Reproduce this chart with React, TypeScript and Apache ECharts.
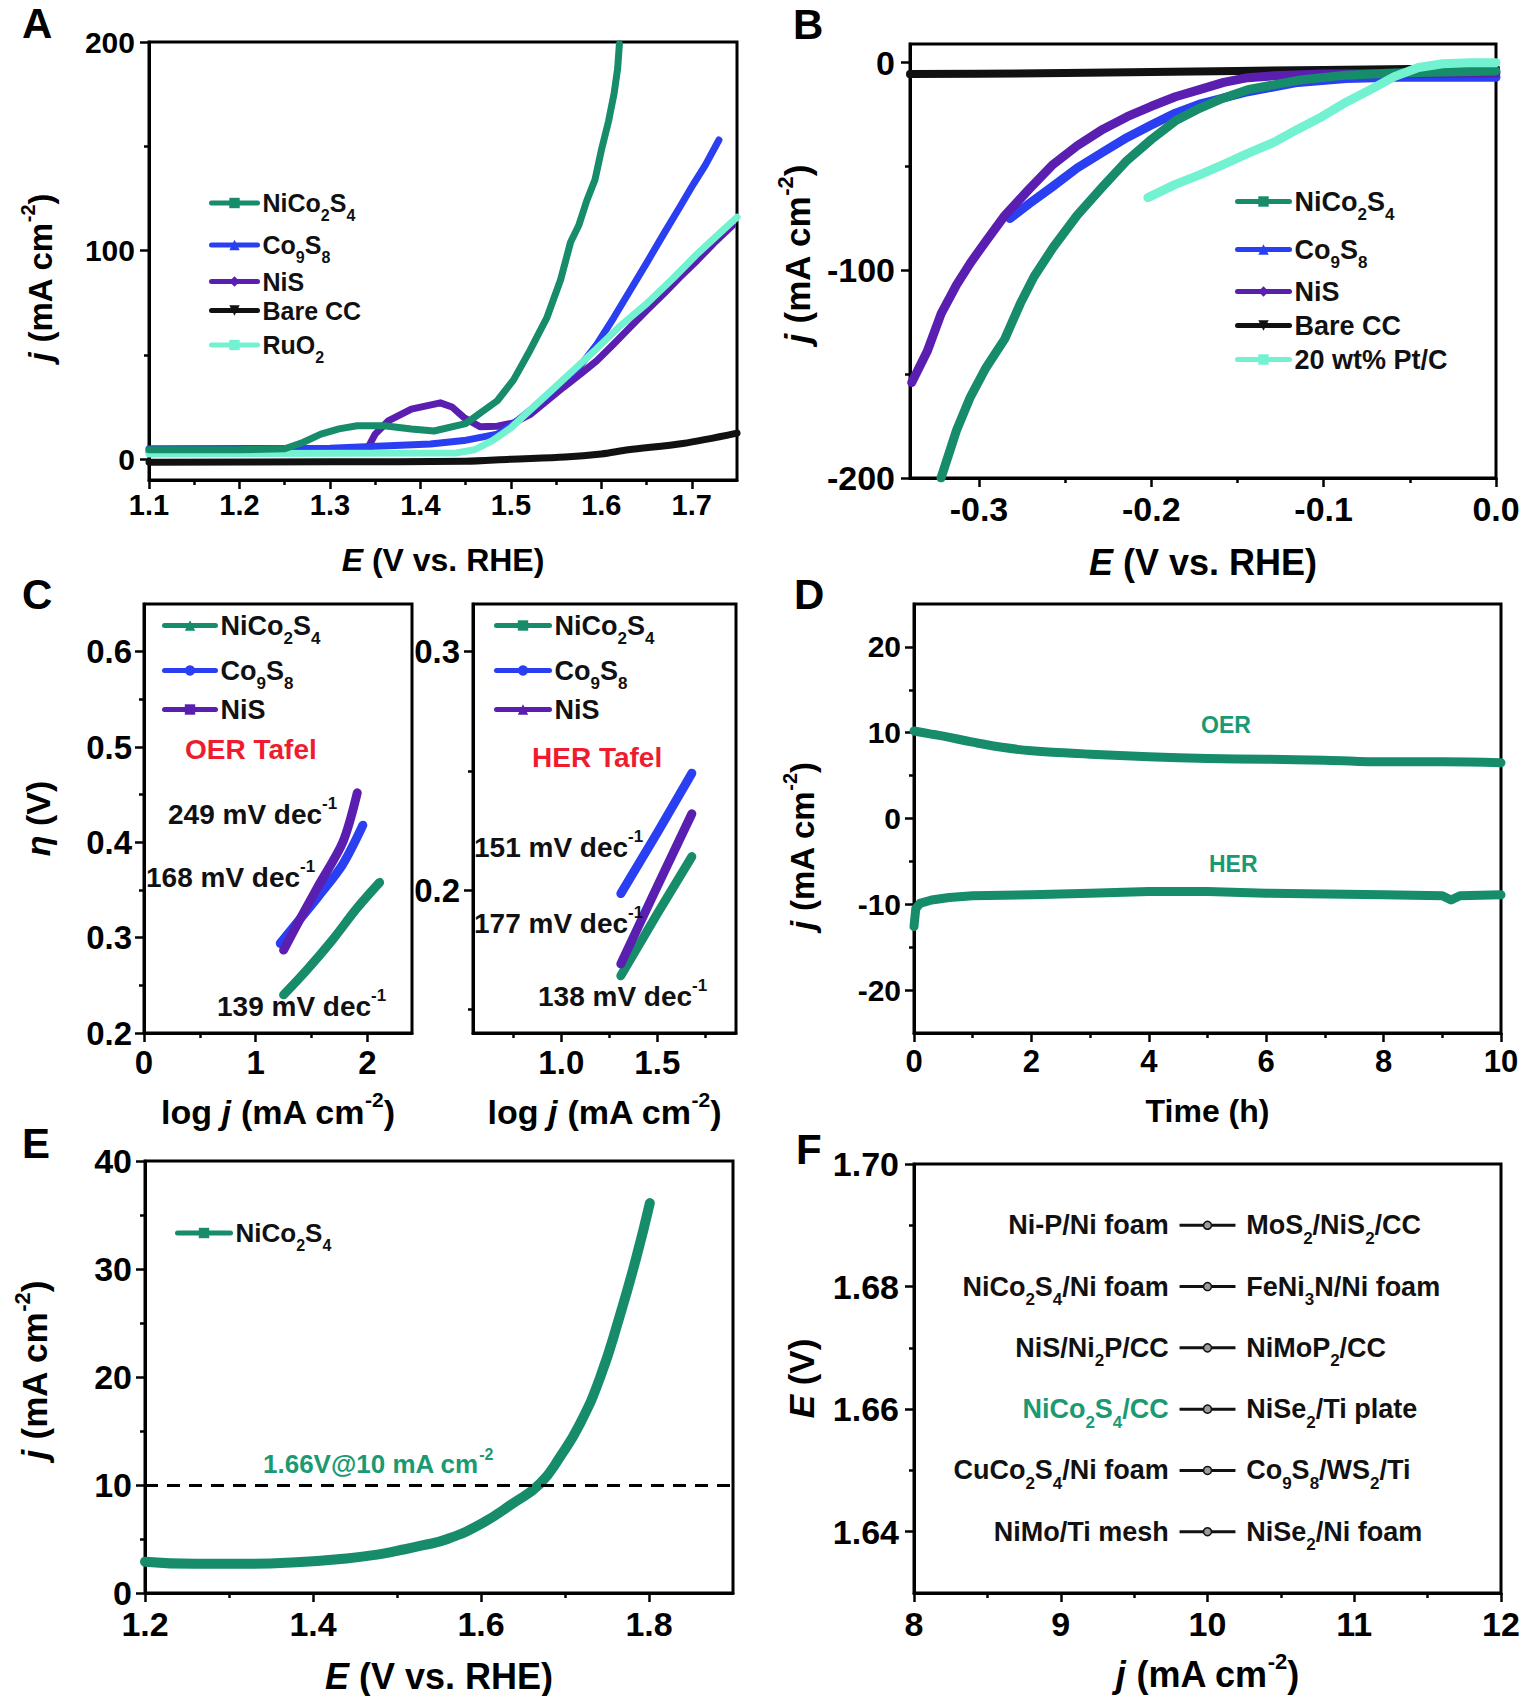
import React, { useEffect, useRef } from 'react';
import * as echarts from 'echarts';

const FONT = 'Arial, "Liberation Sans", Helvetica, sans-serif';
const GREEN = '#168c6a';
const BLUE = '#2b3ff2';
const PURPLE = '#5a1fb0';
const BLACK = '#111111';
const CYAN = '#72f2d0';
const RED = '#ee1c2e';
const LABEL_GREEN = '#1a9a72';

// ---------- Panel A: OER polarization (E, j) ----------
const A_NICO2S4 = [[1.10, 4.5], [1.20, 4.5], [1.25, 5], [1.27, 8], [1.29, 12], [1.31, 14.5], [1.33, 16], [1.36, 16], [1.39, 14.5], [1.415, 13.5], [1.45, 17], [1.485, 28], [1.503, 38], [1.521, 52], [1.54, 68], [1.555, 86], [1.566, 104], [1.575, 112], [1.584, 124], [1.593, 134], [1.60, 148], [1.608, 162], [1.614, 175], [1.618, 187], [1.62, 199]];
const A_CO9S8 = [[1.10, 5], [1.30, 5.2], [1.411, 7.3], [1.448, 8.9], [1.485, 12], [1.503, 17], [1.521, 23.3], [1.54, 30.5], [1.558, 37.7], [1.577, 45], [1.595, 55], [1.614, 68], [1.632, 81], [1.65, 94], [1.669, 108], [1.687, 121], [1.702, 132], [1.715, 141], [1.73, 153]];
const A_NIS = [[1.10, 3.5], [1.34, 3.8], [1.35, 12], [1.365, 18.5], [1.39, 24], [1.422, 27], [1.435, 25], [1.448, 20], [1.466, 15.5], [1.485, 15.8], [1.503, 17.4], [1.521, 21.3], [1.558, 34.4], [1.577, 40.8], [1.595, 47.2], [1.614, 55.3], [1.632, 63.3], [1.65, 71.3], [1.669, 79.3], [1.687, 87.3], [1.706, 95.3], [1.724, 103.4], [1.745, 112]];
const A_BARE = [[1.10, -1.5], [1.30, -1.3], [1.45, -1], [1.50, 0], [1.56, 1], [1.60, 2.5], [1.63, 4.5], [1.69, 7.5], [1.75, 12.5]];
const A_RUO2 = [[1.10, 2.5], [1.44, 3], [1.46, 4.5], [1.48, 9], [1.50, 15], [1.52, 23], [1.545, 33], [1.57, 43], [1.595, 53], [1.62, 63.5], [1.65, 74.5], [1.68, 87], [1.705, 98], [1.73, 108], [1.75, 116]];
const A_NAMES = ['A::NiCo_{2}S_{4}', 'A::Co_{9}S_{8}', 'A::NiS', 'A::Bare CC', 'A::RuO_{2}'];

// ---------- Panel B: HER polarization ----------
const B_NICO2S4 = [[-0.322, -200], [-0.313, -177], [-0.305, -161], [-0.296, -147], [-0.285, -133], [-0.276, -116], [-0.268, -103], [-0.257, -89], [-0.243, -73.5], [-0.228, -59.5], [-0.214, -47], [-0.2, -37], [-0.186, -28], [-0.172, -22], [-0.158, -17], [-0.144, -13], [-0.115, -8.5], [-0.087, -6], [-0.059, -5], [0, -4]];
const B_CO9S8 = [[-0.282, -75], [-0.271, -68], [-0.257, -59.5], [-0.243, -50.7], [-0.228, -43], [-0.214, -36], [-0.2, -30], [-0.186, -24.3], [-0.172, -20], [-0.144, -14], [-0.115, -9.5], [-0.087, -7.6], [-0.059, -7], [0, -7]];
const B_NIS = [[-0.339, -154], [-0.33, -139], [-0.322, -121], [-0.313, -107], [-0.305, -96.5], [-0.296, -86], [-0.285, -73.6], [-0.271, -61], [-0.257, -49], [-0.243, -40], [-0.228, -32], [-0.214, -26], [-0.2, -21], [-0.186, -16.4], [-0.172, -13], [-0.158, -9.5], [-0.144, -7.2], [-0.129, -6.3], [-0.1, -5.5], [0, -5]];
const B_BARE = [[-0.34, -5.5], [-0.3, -5.3], [-0.25, -5], [-0.2, -4.5], [-0.15, -4], [-0.1, -3.5], [-0.05, -3], [0, -2.8]];
const B_PTC = [[-0.202, -65], [-0.186, -58.6], [-0.172, -54], [-0.158, -49], [-0.144, -43.7], [-0.129, -38.4], [-0.115, -32], [-0.101, -26], [-0.087, -19], [-0.073, -13], [-0.059, -6.7], [-0.045, -2.3], [-0.031, -0.5], [-0.015, 0], [0, 0]];
const B_NAMES = ['B::NiCo_{2}S_{4}', 'B::Co_{9}S_{8}', 'B::NiS', 'B::Bare CC', 'B::20 wt% Pt/C'];

// ---------- Panel C: Tafel plots ----------
const C1_NICO2S4 = [[1.25, 0.24], [1.45, 0.265], [1.69, 0.298], [1.9, 0.33], [2.11, 0.358]];
const C1_CO9S8 = [[1.22, 0.294], [1.4, 0.32], [1.56, 0.343], [1.78, 0.377], [1.96, 0.418]];
const C1_NIS = [[1.25, 0.287], [1.4, 0.32], [1.56, 0.354], [1.78, 0.40], [1.91, 0.452]];
const C1_NAMES = ['C1::NiCo_{2}S_{4}', 'C1::Co_{9}S_{8}', 'C1::NiS'];
const C1_SLOPES = ['249 mV dec^{-1}', '168 mV dec^{-1}', '139 mV dec^{-1}'];
const C2_NICO2S4 = [[1.31, 0.164], [1.5, 0.19], [1.68, 0.214]];
const C2_CO9S8 = [[1.31, 0.1985], [1.5, 0.224], [1.68, 0.249]];
const C2_NIS = [[1.31, 0.169], [1.5, 0.2015], [1.68, 0.232]];
const C2_NAMES = ['C2::NiCo_{2}S_{4}', 'C2::Co_{9}S_{8}', 'C2::NiS'];
const C2_SLOPES = ['151 mV dec^{-1}', '177 mV dec^{-1}', '138 mV dec^{-1}'];

// ---------- Panel D: stability ----------
const D_OER = [[0, 10.2], [0.25, 9.9], [0.5, 9.6], [1, 8.9], [1.5, 8.3], [2, 7.9], [3, 7.5], [4, 7.2], [5, 7.0], [6, 6.9], [7, 6.8], [8, 6.6], [9, 6.6], [10, 6.5]];
const D_HER = [[0, -12.6], [0.03, -10.5], [0.1, -9.9], [0.3, -9.5], [0.6, -9.2], [1, -9.0], [2, -8.9], [3, -8.7], [4, -8.5], [5, -8.5], [6, -8.7], [7, -8.8], [8, -8.9], [9, -9.0], [9.15, -9.5], [9.3, -9.0], [10, -8.9]];

// ---------- Panel E: overall water splitting ----------
const E_NICO2S4 = [[1.2, 2.9], [1.26, 2.7], [1.32, 2.7], [1.38, 2.85], [1.44, 3.2], [1.48, 3.6], [1.50, 3.9], [1.53, 4.4], [1.56, 5.0], [1.60, 6.4], [1.638, 8.3], [1.67, 10.1], [1.694, 12.6], [1.718, 15.7], [1.742, 20.0], [1.765, 25.6], [1.785, 31.1], [1.801, 36.1]];
const E_REF_J = 10;
const E_NAMES = ['E::NiCo_{2}S_{4}'];
const E_NOTE = '1.66V@10 mA cm^{-2}';

// ---------- Panel F: comparison ----------
const F_J = 10;
const F_E = [1.69, 1.68, 1.67, 1.66, 1.65, 1.64];
const F_LEFT = ['Ni-P/Ni foam', 'NiCo_{2}S_{4}/Ni foam', 'NiS/Ni_{2}P/CC', 'NiCo_{2}S_{4}/CC', 'CuCo_{2}S_{4}/Ni foam', 'NiMo/Ti mesh'];
const F_RIGHT = ['MoS_{2}/NiS_{2}/CC', 'FeNi_{3}N/Ni foam', 'NiMoP_{2}/CC', 'NiSe_{2}/Ti plate', 'Co_{9}S_{8}/WS_{2}/Ti', 'NiSe_{2}/Ni foam'];
const F_HIGHLIGHT = 3;
const F_SEG = 0.19;

// ---------- helpers ----------
function richify(s: string): string {
  let out = '';
  let buf = '';
  const flush = () => {
    if (buf) { out += '{t|' + buf + '}'; buf = ''; }
  };
  for (let i = 0; i < s.length; i++) {
    const c = s[i];
    if ((c === '_' || c === '^' || c === '~') && s[i + 1] === '{') {
      const end = s.indexOf('}', i + 2);
      const inner = s.slice(i + 2, end);
      flush();
      const st = c === '_' ? 's' : c === '^' ? 'p' : 'i';
      out += '{' + st + '|' + inner + '}';
      i = end;
    } else {
      buf += c;
    }
  }
  flush();
  return out;
}

function richStyles(F: number, color: string) {
  const L = Math.round(F * 1.45);
  const S = Math.round(F * 0.62);
  const base: any = { fontFamily: FONT, fontWeight: 'bold', color, fill: color };
  return {
    t: { ...base, fontSize: F, lineHeight: L },
    i: { ...base, fontSize: F, lineHeight: L, fontStyle: 'italic' },
    s: { ...base, fontSize: S, lineHeight: S, verticalAlign: 'top', padding: [Math.round(L / 2 + 0.157 * F), 0, 0, 0] },
    p: { ...base, fontSize: S, lineHeight: S, verticalAlign: 'top', padding: [Math.round(F * 0.05), 0, 0, 0] },
  };
}

type AxisSpec = {
  min: number; max: number; major: number[]; minor: number[];
  fmt: (v: number) => string; fs: number; margin: number;
  name?: string; nameGap?: number; nameFs?: number; namePad?: number[];
};

function makeAxis(dim: 'x' | 'y', gi: number, s: AxisSpec) {
  const position = dim === 'x' ? 'bottom' : 'left';
  const common: any = { type: 'value', gridIndex: gi, position, min: s.min, max: s.max, splitLine: { show: false }, offset: 0 };
  const main: any = {
    ...common,
    axisLine: { show: true, onZero: false, lineStyle: { color: '#000', width: 3 } },
    axisTick: { show: true, inside: false, length: 9, customValues: s.major, lineStyle: { color: '#000', width: 2.5 } },
    axisLabel: {
      show: true, customValues: s.major, formatter: (v: number) => s.fmt(v),
      fontSize: s.fs, fontWeight: 'bold', fontFamily: FONT, color: '#000', margin: s.margin,
      showMinLabel: true, showMaxLabel: true, hideOverlap: false,
    },
    name: s.name ? richify(s.name) : '',
    nameLocation: 'middle',
    nameGap: s.nameGap ?? 0,
    nameMoveOverlap: false,
    nameTextStyle: { rich: richStyles(s.nameFs ?? 30, '#000'), padding: s.namePad ?? 0 },
  };
  const minor: any = {
    ...common,
    axisLine: { show: false, onZero: false },
    axisTick: { show: true, inside: false, length: 5, customValues: s.minor, lineStyle: { color: '#000', width: 2.5 } },
    axisLabel: { show: false },
    name: '',
  };
  return [main, minor];
}

const f0 = (v: number) => String(Math.round(v));
const f1 = (v: number) => v.toFixed(1);
const f2 = (v: number) => v.toFixed(2);

function buildOption() {
  const gridRects = [
    { left: 149, top: 42, width: 588, height: 438 },   // A
    { left: 910, top: 44, width: 586, height: 434 },   // B
    { left: 144, top: 604, width: 268, height: 429 },  // C1
    { left: 473, top: 604, width: 263, height: 429 },  // C2
    { left: 914, top: 604, width: 587, height: 429 },  // D
    { left: 145, top: 1161, width: 588, height: 432 }, // E
    { left: 914, top: 1164, width: 587, height: 429 }, // F
  ];
  const grid = gridRects.map((g) => ({
    ...g, show: true, borderColor: '#000', borderWidth: 3, backgroundColor: 'rgba(0,0,0,0)',
    containLabel: false, outerBoundsMode: 'none',
  }));

  const xAxis: any[] = [];
  const yAxis: any[] = [];
  const addAxes = (gi: number, xs: AxisSpec, ys: AxisSpec) => {
    const xi = xAxis.length;
    xAxis.push(...makeAxis('x', gi, xs));
    const yi = yAxis.length;
    yAxis.push(...makeAxis('y', gi, ys));
    return { xi, yi };
  };

  const jName = '~{j }(mA cm^{-2})';
  const eName = '~{E }(V vs. RHE)';
  const logName = 'log ~{j }(mA cm^{-2})';

  const axA = addAxes(0,
    { min: 1.1, max: 1.75, major: [1.1, 1.2, 1.3, 1.4, 1.5, 1.6, 1.7], minor: [1.15, 1.25, 1.35, 1.45, 1.55, 1.65], fmt: f1, fs: 29, margin: 10, name: eName, nameGap: 57, nameFs: 32 },
    { min: -10, max: 200, major: [0, 100, 200], minor: [50, 150], fmt: f0, fs: 30, margin: 14, name: jName, nameGap: 85, nameFs: 33, namePad: [0, 33, 0, 0] });
  const axB = addAxes(1,
    { min: -0.34, max: 0, major: [-0.3, -0.2, -0.1, 0], minor: [-0.25, -0.15, -0.05], fmt: f1, fs: 34, margin: 14, name: eName, nameGap: 58, nameFs: 36 },
    { min: -200, max: 9, major: [-200, -100, 0], minor: [-150, -50], fmt: f0, fs: 34, margin: 15, name: jName, nameGap: 87, nameFs: 35, namePad: [0, 0, 0, 14] });
  const axC1 = addAxes(2,
    { min: 0, max: 2.4, major: [0, 1, 2], minor: [0.5, 1.5], fmt: f0, fs: 33, margin: 13, name: logName, nameGap: 54, nameFs: 34 },
    { min: 0.2, max: 0.65, major: [0.2, 0.3, 0.4, 0.5, 0.6], minor: [0.25, 0.35, 0.45, 0.55], fmt: f1, fs: 33, margin: 12, name: '~{η }(V)', nameGap: 82, nameFs: 34 });
  const axC2 = addAxes(3,
    { min: 0.54, max: 1.91, major: [1.0, 1.5], minor: [0.75, 1.25, 1.75], fmt: f1, fs: 33, margin: 13, name: logName, nameGap: 54, nameFs: 34 },
    { min: 0.14, max: 0.32, major: [0.2, 0.3], minor: [0.15, 0.25], fmt: f1, fs: 33, margin: 13 });
  const axD = addAxes(4,
    { min: 0, max: 10, major: [0, 2, 4, 6, 8, 10], minor: [1, 3, 5, 7, 9], fmt: f0, fs: 31, margin: 13, name: 'Time (h)', nameGap: 55, nameFs: 32 },
    { min: -25, max: 25, major: [-20, -10, 0, 10, 20], minor: [-15, -5, 5, 15], fmt: f0, fs: 30, margin: 13, name: jName, nameGap: 88, nameFs: 33, namePad: [0, 55, 0, 0] });
  const axE = addAxes(5,
    { min: 1.2, max: 1.9, major: [1.2, 1.4, 1.6, 1.8], minor: [1.3, 1.5, 1.7], fmt: f1, fs: 34, margin: 14, name: eName, nameGap: 57, nameFs: 36 },
    { min: 0, max: 40, major: [0, 10, 20, 30, 40], minor: [5, 15, 25, 35], fmt: f0, fs: 34, margin: 13, name: jName, nameGap: 85, nameFs: 35, namePad: [0, 0, 0, 14] });
  const axF = addAxes(6,
    { min: 8, max: 12, major: [8, 9, 10, 11, 12], minor: [8.5, 9.5, 10.5, 11.5], fmt: f0, fs: 34, margin: 14, name: jName, nameGap: 55, nameFs: 36 },
    { min: 1.63, max: 1.70, major: [1.64, 1.66, 1.68, 1.70], minor: [1.65, 1.67, 1.69], fmt: f2, fs: 34, margin: 15, name: '~{E }(V)', nameGap: 87, nameFs: 35 });

  const curve = (name: string, data: number[][], color: string, symbol: string, ax: { xi: number; yi: number }, width: number, rotate = 0, smooth: number | boolean = false) => ({
    type: 'line', name, data, xAxisIndex: ax.xi, yAxisIndex: ax.yi,
    showSymbol: false, symbol, symbolSize: 12, symbolRotate: rotate,
    smooth,
    lineStyle: { color, width, cap: 'round', join: 'round' },
    itemStyle: { color },
    emphasis: { disabled: true }, silent: true, clip: true,
  });

  const series: any[] = [
    // A (drawing order for overlap)
    curve(A_NAMES[3], A_BARE, BLACK, 'triangle', axA, 7, 180, 0.3),
    curve(A_NAMES[2], A_NIS, PURPLE, 'diamond', axA, 7),
    curve(A_NAMES[1], A_CO9S8, BLUE, 'triangle', axA, 7),
    curve(A_NAMES[4], A_RUO2, CYAN, 'rect', axA, 7),
    curve(A_NAMES[0], A_NICO2S4, GREEN, 'rect', axA, 7),
    // B
    curve(B_NAMES[3], B_BARE, BLACK, 'triangle', axB, 8, 180),
    curve(B_NAMES[1], B_CO9S8, BLUE, 'triangle', axB, 9),
    curve(B_NAMES[2], B_NIS, PURPLE, 'diamond', axB, 9),
    curve(B_NAMES[0], B_NICO2S4, GREEN, 'rect', axB, 9),
    curve(B_NAMES[4], B_PTC, CYAN, 'rect', axB, 9),
    // C1
    curve(C1_NAMES[0], C1_NICO2S4, GREEN, 'triangle', axC1, 9, 0, 0.3),
    curve(C1_NAMES[1], C1_CO9S8, BLUE, 'circle', axC1, 9, 0, 0.3),
    curve(C1_NAMES[2], C1_NIS, PURPLE, 'rect', axC1, 9, 0, 0.3),
    // C2
    curve(C2_NAMES[0], C2_NICO2S4, GREEN, 'rect', axC2, 9),
    curve(C2_NAMES[1], C2_CO9S8, BLUE, 'circle', axC2, 9),
    curve(C2_NAMES[2], C2_NIS, PURPLE, 'triangle', axC2, 9),
    // D
    curve('D::OER', D_OER, GREEN, 'rect', axD, 9, 0, 0.4),
    curve('D::HER', D_HER, GREEN, 'rect', axD, 9),
    // E
    {
      ...curve(E_NAMES[0], E_NICO2S4, GREEN, 'rect', axE, 10, 0, 0.5),
      markLine: {
        silent: true, symbol: ['none', 'none'], label: { show: false },
        lineStyle: { color: '#000', width: 3, type: [13, 9] },
        emphasis: { disabled: true },
        data: [{ yAxis: E_REF_J }],
      },
    },
  ];

  // F rows
  F_E.forEach((e, i) => {
    const leftColor = i === F_HIGHLIGHT ? LABEL_GREEN : '#111';
    series.push({
      type: 'line', name: 'F::row' + i, xAxisIndex: axF.xi, yAxisIndex: axF.yi,
      symbol: 'circle', symbolSize: 8, showSymbol: true, showAllSymbol: true,
      lineStyle: { color: '#111', width: 3 },
      itemStyle: { color: '#9c9c9c', borderColor: '#111', borderWidth: 1.5 },
      emphasis: { disabled: true }, silent: true,
      data: [
        {
          value: [F_J - F_SEG, e], symbolSize: 0.1,
          label: { show: true, position: 'left', distance: 10, formatter: () => richify(F_LEFT[i]), rich: richStyles(27, leftColor) },
        },
        { value: [F_J, e] },
        {
          value: [F_J + F_SEG, e], symbolSize: 0.1,
          label: { show: true, position: 'right', distance: 10, formatter: () => richify(F_RIGHT[i]), rich: richStyles(27, '#111') },
        },
      ],
    });
  });

  const mkLegend = (names: string[], left: number, top: number, F: number, itemGap: number, itemWidth: number) => ({
    show: true, orient: 'vertical', left, top, padding: 0, data: names,
    itemWidth, itemHeight: 13, itemGap, selectedMode: false,
    formatter: (n: string) => richify(n.split('::')[1]),
    textStyle: { rich: richStyles(F, '#111') },
    lineStyle: { width: 5 },
  });

  const legend = [
    mkLegend(A_NAMES, 209, 185, 25, 4, 46),
    mkLegend(B_NAMES, 1235, 182, 27, 7, 52),
    mkLegend(C1_NAMES, 162, 606, 27, 4, 51),
    mkLegend(C2_NAMES, 494, 606, 27, 4, 53),
    mkLegend(E_NAMES, 175, 1214, 26, 1, 53),
  ];

  const txt = (x: number, y: number, s: string, F: number, color: string) => ({
    type: 'text', x, y, z: 100, silent: true,
    style: {
      text: richify(s), rich: richStyles(F, color),
      align: 'left', verticalAlign: 'middle', textAlign: 'left', textVerticalAlign: 'middle',
    },
  });
  const letter = (x: number, y: number, s: string) => ({
    type: 'text', x, y, z: 100, silent: true,
    style: {
      text: s, fontSize: 42, fontWeight: 'bold', fontFamily: FONT, fill: '#000',
      align: 'left', verticalAlign: 'middle', textAlign: 'left', textVerticalAlign: 'middle',
    },
  });

  const graphic = [
    letter(22, 23, 'A'), letter(793, 24, 'B'), letter(22, 594, 'C'),
    letter(794, 594, 'D'), letter(22, 1143, 'E'), letter(796, 1149, 'F'),
    txt(185, 749, 'OER Tafel', 28, RED),
    txt(168, 814, C1_SLOPES[0], 28, '#111'),
    txt(146, 877, C1_SLOPES[1], 28, '#111'),
    txt(217, 1006, C1_SLOPES[2], 28, '#111'),
    txt(532, 757, 'HER Tafel', 28, RED),
    txt(474, 847, C2_SLOPES[0], 28, '#111'),
    txt(474, 923, C2_SLOPES[1], 28, '#111'),
    txt(538, 996, C2_SLOPES[2], 28, '#111'),
    txt(1201, 725, 'OER', 23, LABEL_GREEN),
    txt(1209, 864, 'HER', 23, LABEL_GREEN),
    txt(263, 1464, E_NOTE, 26, LABEL_GREEN),
  ];

  return {
    animation: false,
    backgroundColor: '#ffffff',
    textStyle: { fontFamily: FONT },
    grid, xAxis, yAxis, series, legend, graphic,
  };
}

export default function App() {
  const ref = useRef<HTMLDivElement>(null);
  useEffect(() => {
    if (!ref.current) return;
    const chart = echarts.init(ref.current, null, { renderer: 'svg', width: 1522, height: 1696 });
    chart.setOption(buildOption() as any);
    return () => chart.dispose();
  }, []);
  return (
    <div
      ref={ref}
      style={{ position: 'absolute', left: 0, top: 0, width: 1522, height: 1696, background: '#fff' }}
    />
  );
}
